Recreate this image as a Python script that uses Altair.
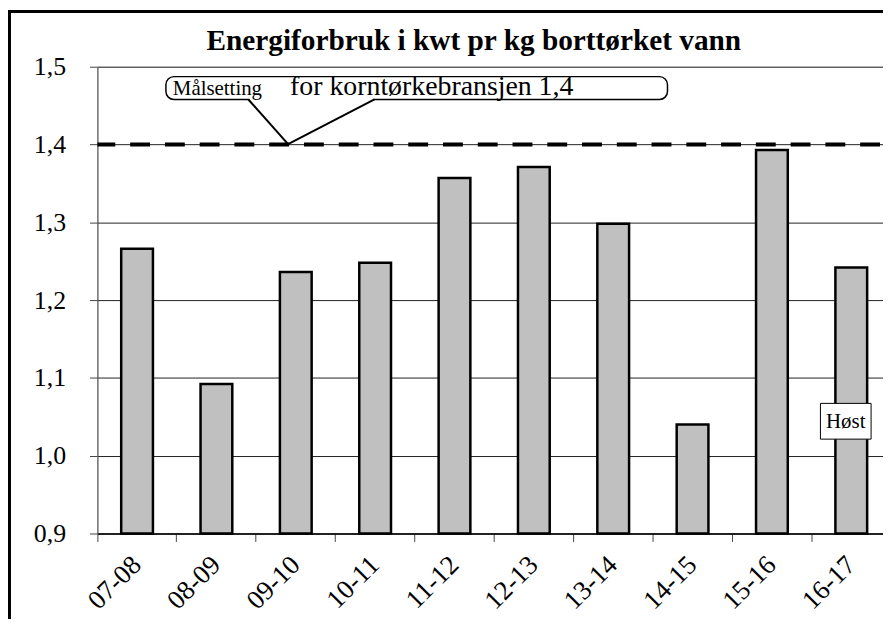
import altair as alt
import pandas as pd

# ---- data ----
seasons = ["07-08", "08-09", "09-10", "10-11", "11-12",
           "12-13", "13-14", "14-15", "15-16", "16-17"]
energy = [1.266, 1.092, 1.236, 1.248, 1.357,
          1.371, 1.298, 1.040, 1.393, 1.242]
y_ticks = [0.9, 1.0, 1.1, 1.2, 1.3, 1.4, 1.5]
y_min, y_max = 0.9, 1.5
target = 1.4
title_text = "Energiforbruk i kwt pr kg borttørket vann"
callout_small = "Målsetting"
callout_big = "for korntørkebransjen 1,4"
note_text = "Høst"

df = pd.DataFrame({"season": seasons, "energy": energy})
one = pd.DataFrame({"k": [0]})

FONT = "Times New Roman, Liberation Serif, serif"
W, H = 791, 470

x_scale = alt.Scale(domain=seasons, range=[0, 799], paddingInner=0, paddingOuter=0)
y_scale = alt.Scale(domain=[y_min, y_max], zero=False, nice=False)

bars = alt.Chart(df).mark_bar(
    width=alt.RelativeBandSize(0.4), fill="#C0C0C0", stroke="black", strokeWidth=2.5
).encode(
    x=alt.X("season:N", sort=seasons, scale=x_scale,
            axis=alt.Axis(title=None, labelAngle=-45, labelFont=FONT, labelFontSize=27,
                          labelColor="black", labelPadding=19, tickSize=8,
                          tickColor="#444", tickWidth=1, bandPosition=0,
                          domain=True, domainColor="black", domainWidth=1.5,
                          grid=False, labelAlign="right", labelBaseline="middle")),
    y=alt.Y("energy:Q", scale=y_scale,
            axis=alt.Axis(title=None, values=y_ticks,
                          labelExpr="replace(format(datum.value, '.1f'), '.', ',')",
                          labelFont=FONT, labelFontSize=26, labelColor="black",
                          labelPadding=24, tickSize=8, tickColor="#444",
                          domainColor="#555", domainWidth=1.2,
                          grid=True, gridColor="#222", gridWidth=1)),
    y2=alt.datum(y_min),
)

target_rule = alt.Chart(one).mark_rule(
    color="black", strokeWidth=4, strokeDash=[20, 15], strokeDashOffset=32
).encode(y=alt.datum(target))

# chart title
title = alt.Chart(one).mark_text(
    font=FONT, fontSize=29.5, fontWeight="bold", align="center",
    baseline="alphabetic", color="black"
).encode(x=alt.value(379), y=alt.value(-17), text=alt.value(title_text))

# callout box
box = alt.Chart(one).mark_rect(
    fill="white", stroke="black", strokeWidth=1.5, cornerRadius=8
).encode(x=alt.value(69), x2=alt.value(574), y=alt.value(10), y2=alt.value(33))
cover = alt.Chart(one).mark_rule(color="white", strokeWidth=3).encode(
    x=alt.value(153), x2=alt.value(278), y=alt.value(33), y2=alt.value(33))
ptr1 = alt.Chart(one).mark_rule(color="black", strokeWidth=2).encode(
    x=alt.value(152), x2=alt.value(192), y=alt.value(33), y2=alt.value(78))
ptr2 = alt.Chart(one).mark_rule(color="black", strokeWidth=2).encode(
    x=alt.value(192), x2=alt.value(279), y=alt.value(78), y2=alt.value(33))
txt_small = alt.Chart(one).mark_text(
    font=FONT, fontSize=21, align="left", baseline="alphabetic", color="black"
).encode(x=alt.value(76), y=alt.value(29), text=alt.value(callout_small))
txt_big = alt.Chart(one).mark_text(
    font=FONT, fontSize=28, align="left", baseline="alphabetic", color="black"
).encode(x=alt.value(194), y=alt.value(29), text=alt.value(callout_big))

# "Høst" note
note_box = alt.Chart(one).mark_rect(fill="white", stroke="black", strokeWidth=1).encode(
    x=alt.value(728), x2=alt.value(779), y=alt.value(339), y2=alt.value(375))
note_txt = alt.Chart(one).mark_text(
    font=FONT, fontSize=21, align="center", baseline="middle", color="black"
).encode(x=alt.value(753.5), y=alt.value(358), text=alt.value(note_text))

# outer frame of the whole chart
frame = alt.Chart(one).mark_rect(fill=None, stroke="black", strokeWidth=3).encode(
    x=alt.value(-88.5), x2=alt.value(900), y=alt.value(-55.5), y2=alt.value(700))

chart = alt.layer(
    bars, target_rule, title, box, cover, ptr1, ptr2, txt_small, txt_big,
    note_box, note_txt, frame
).properties(
    width=W, height=H,
    padding={"left": 90, "top": 57, "right": 0, "bottom": 84},
    autosize=alt.AutoSizeParams(type="none"),
).configure_view(stroke=None).configure(background="white")

chart.save("out.html", embed_options={"renderer": "svg", "actions": False})
